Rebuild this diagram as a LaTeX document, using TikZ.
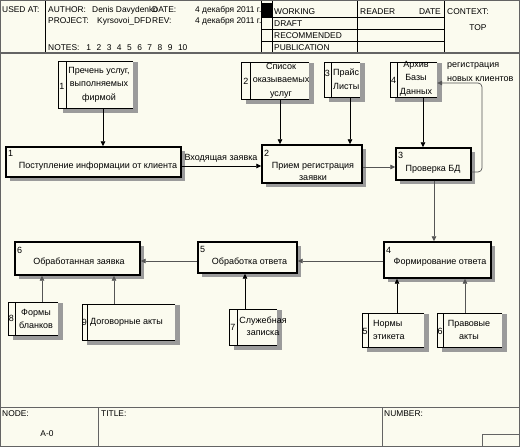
\documentclass[tikz,border=0pt]{standalone}
\usepackage{fontspec}
\setmainfont{Liberation Sans}
\usetikzlibrary{arrows.meta,fit}
\definecolor{bgc}{RGB}{251,251,239}
\definecolor{shc}{RGB}{155,155,155}
\definecolor{framec}{RGB}{100,100,100}
\definecolor{grayline}{RGB}{85,85,85}
\newcommand\actbox[5]{%
  \fill[shc] ({#2+4},{#3+4}) rectangle ({#4+4},{#5+4});
  \node[act, fit={(#2,#3) (#4,#5)}] (#1) {};}
\newcommand\dsbox[6]{%
  \fill[shc] ({#2+5},{#3+1}) rectangle ({#4+5},{#5+5});
  \node[dsfill, fit={(#2,#3) (#4,#5)}] (#1) {};
  \draw[dsl] (#1.north east) -- (#1.north west) -- (#1.south west) -- (#1.south east);
  \draw[dsl] (#6,#3) -- (#6,#5);}
\begin{document}
\begin{tikzpicture}[x=1pt,y=-1pt,
  hdr/.style={font=\fontsize{8.4}{9}\selectfont, inner sep=0, anchor=west},
  txt/.style={font=\fontsize{9}{13.5}\selectfont, inner sep=0, align=center},
  num/.style={font=\fontsize{9}{10}\selectfont, inner sep=0},
  act/.style={draw=black, line width=1.4pt, fill=bgc, inner sep=0},
  dsfill/.style={inner sep=0, fill=bgc},
  dsl/.style={draw=black, line width=0.6pt},
  arr/.style={line width=0.7pt, -{Triangle[length=5pt,width=4.5pt]}},
  garr/.style={arr, draw=grayline},
  hl/.style={draw=black, line width=0.6pt}]
\fill[bgc] (0,0) rectangle (520,447);
\useasboundingbox (0,0) rectangle (520,447);
% ---------- header ----------
\draw[hl] (45,0) -- (45,53);
\draw[hl] (261,0) -- (261,53);
\draw[hl] (272,0) -- (272,53);
\draw[hl] (357,0) -- (357,53);
\draw[hl] (444,0) -- (444,53);
\draw[hl] (261,17.5) -- (444,17.5);
\draw[hl] (261,29.5) -- (444,29.5);
\draw[hl] (261,41.5) -- (444,41.5);
\fill[black] (261,3) rectangle (272,17.5);
\draw[framec, line width=1.5pt] (0,53) -- (520,53);
\node[hdr] (usedat) at (2,10) {USED AT:};
\node[hdr] (author) at (48,10) {AUTHOR:};
\node[hdr] (authorv) at (92,10) {Denis Davydenko};
\node[hdr] (date) at (152,10) {DATE:};
\node[hdr] (datev) at (195,10) {4 декабря 2011 г.};
\node[hdr] (proj) at (48,21) {PROJECT:};
\node[hdr] (projv) at (97,21) {Kyrsovoi\_DFD};
\node[hdr] (rev) at (152,21) {REV:};
\node[hdr] (revv) at (195,21) {4 декабря 2011 г.};
\node[hdr] (notes) at (48,48) {NOTES:\hspace{7pt}1\hspace{5.5pt}2\hspace{5.5pt}3\hspace{5.5pt}4\hspace{5.5pt}5\hspace{5.5pt}6\hspace{5.5pt}7\hspace{5.5pt}8\hspace{5.5pt}9\hspace{5.5pt}10};
\node[hdr] (working) at (274,11.5) {WORKING};
\node[hdr] (draft) at (274,23.5) {DRAFT};
\node[hdr] (recom) at (274,35.5) {RECOMMENDED};
\node[hdr] (publ) at (274,47.5) {PUBLICATION};
\node[hdr] (reader) at (360,11.5) {READER};
\node[hdr, anchor=east] (rdate) at (441,11.5) {DATE};
\node[hdr] (context) at (447,11.5) {CONTEXT:};
\node[hdr, anchor=center] (top) at (478,28) {TOP};
% ---------- footer ----------
\draw[framec, line width=1pt] (0,407) -- (520,407);
\draw[framec, line width=0.8pt] (98,407) -- (98,447);
\draw[framec, line width=0.8pt] (382,407) -- (382,447);
\node[hdr] (nodel) at (2,414) {NODE:};
\node[hdr, anchor=center] (nodev) at (47,434) {A-0};
\node[hdr] (titlel) at (101,414) {TITLE:};
\node[hdr] (numberl) at (384,414) {NUMBER:};
\draw[framec, line width=0.8pt] (482,434) rectangle (519,447);
\draw[framec, line width=1pt] (0.5,0.5) rectangle (519.5,446.5);
% ---------- activity boxes ----------
\actbox{b1}{6}{147}{181}{177}
\actbox{b2}{262}{145}{362}{183}
\actbox{b3}{396}{148}{471}{180}
\actbox{b4}{384}{242}{491}{278}
\actbox{b5}{198}{242}{297}{273}
\actbox{b6}{15}{242}{140}{275}
% ---------- data stores ----------
\dsbox{ds1}{58}{61}{133}{108}{66}
\dsbox{ds2}{241}{62}{309}{99}{250}
\dsbox{ds3}{324}{62}{360}{97}{331}
\dsbox{ds4}{390}{62}{437}{97}{397}
\dsbox{ds5}{362}{313}{424}{347}{368}
\dsbox{ds6}{437}{313}{502}{347}{443}
\dsbox{ds7}{229}{309}{277}{345}{237}
\dsbox{ds8}{8}{302}{58}{335}{15}
\dsbox{ds9}{82}{304}{175}{340}{87}
% ---------- texts ----------
\node[num, anchor=west] (b1n) at (8,153) {1};
\node[num, anchor=west] (b2n) at (264,153) {2};
\node[num, anchor=west] (b3n) at (398,155) {3};
\node[num, anchor=west] (b4n) at (386,250) {4};
\node[num, anchor=west] (b5n) at (200,249) {5};
\node[num, anchor=west] (b6n) at (17,250) {6};
\node[txt] (bt1) at (98,166) {Поступление информации от клиента};
\node[txt, font=\fontsize{9}{12}\selectfont] (bt2) at (313,171) {Прием регистрация\\заявки};
\node[txt] (bt3) at (433,169) {Проверка БД};
\node[txt] (bt4) at (440,262) {Формирование ответа};
\node[txt] (bt5) at (249.5,262) {Обработка ответа};
\node[txt] (bt6) at (79,262) {Обработанная заявка};
\node[num] (n1) at (62,86) {1};
\node[num] (n2) at (246,81) {2};
\node[num] (n3) at (327.5,73) {3};
\node[num] (n4) at (393.5,80) {4};
\node[num] (n5) at (365,331) {5};
\node[num] (n6) at (440,331) {6};
\node[num] (n7) at (233,327) {7};
\node[num] (n8) at (11.5,318) {8};
\node[num] (n9) at (84.5,322) {9};
\node[txt] (t1) at (99,84.5) {Пречень услуг,\\выполняемых\\фирмой};
\node[txt] (t2) at (281,80.5) {Список\\оказываемых\\услуг};
\node[txt, align=left, anchor=west, font=\fontsize{9}{14}\selectfont] (t3) at (333,79) {Прайс\\Листы};
\node[txt] (t4) at (416,78.5) {Архив\\Базы\\Данных};
\node[txt, align=left, anchor=west, font=\fontsize{9}{14}\selectfont] (t4b) at (447,72) {регистрация\\новых клиентов};
\node[txt, font=\fontsize{9}{12}\selectfont] (t7) at (263,326) {Служебная\\записка};
\node[txt, align=left, anchor=west, font=\fontsize{9}{13}\selectfont] (t5) at (373,329.5) {Нормы\\этикета};
\node[txt, font=\fontsize{9}{13}\selectfont] (t6) at (469,329.5) {Правовые\\акты};
\node[txt, font=\fontsize{9}{13}\selectfont] (t8) at (36,318.5) {Формы\\бланков};
\node[txt, anchor=west] (t9) at (90,322) {Договорные акты};
\node[txt] (l1) at (221,158) {Входящая заявка};
% ---------- connectors ----------
\coordinate (c1) at (103,0);
\coordinate (c2) at (280,0);
\coordinate (c3) at (350,0);
\coordinate (c4) at (423,0);
\coordinate (c7) at (434,0);
\coordinate (c10) at (245,0);
\coordinate (c11) at (397,0);
\coordinate (c12) at (465,0);
\coordinate (c13) at (42,0);
\coordinate (c14) at (114,0);
\coordinate (r5) at (0,166);
\coordinate (r6) at (0,167);
\coordinate (r8) at (0,261);
\coordinate (f1) at (482,172);
\coordinate (f2) at (482,83);
\draw[arr] (c1 |- ds1.south) -- (c1 |- b1.north);
\draw[arr] (c2 |- ds2.south) -- (c2 |- b2.north);
\draw[arr] (c3 |- ds3.south) -- (c3 |- b2.north);
\draw[arr] (c4 |- ds4.south) -- (c4 |- b3.north);
\draw[arr] (b1.east |- r5) -- (b2.west |- r5);
\draw[garr] (b2.east |- r6) -- (b3.west |- r6);
\draw[garr] (c7 |- b3.south) -- (c7 |- b4.north);
\draw[garr] (b4.west |- r8) -- (b5.east |- r8);
\draw[garr] (b5.west |- r8) -- (b6.east |- r8);
\draw[arr] (c10 |- ds7.north) -- (c10 |- b5.south);
\draw[arr] (c11 |- ds5.north) -- (c11 |- b4.south);
\draw[garr] (c12 |- ds6.north) -- (c12 |- b4.south);
\draw[garr] (c13 |- ds8.north) -- (c13 |- b6.south);
\draw[garr] (c14 |- ds9.north) -- (c14 |- b6.south);
\draw[garr, rounded corners=4pt] (b3.east |- f1) -- (f1) -- (f2) -- (ds4.east |- f2);
\end{tikzpicture}
\end{document}
